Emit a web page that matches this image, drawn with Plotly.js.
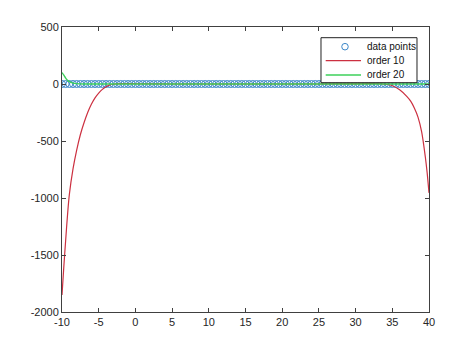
<!DOCTYPE html>
<html>
<head>
<meta charset="utf-8">
<script src="https://cdn.plot.ly/plotly-3.0.1.min.js"></script>
<style>html,body{margin:0;padding:0;background:#fff;}#chart{width:474px;height:351px;}</style>
</head>
<body>
<div id="chart"></div>
<script>
// data points
var pointsX = [-10,-9.5,-9,-8.5,-8,-7.5,-7,-6.5,-6,-5.5,-5,-4.5,-4,-3.5,-3,-2.5,-2,-1.5,-1,-0.5,0,0.5,1,1.5,2,2.5,3,3.5,4,4.5,5,5.5,6,6.5,7,7.5,8,8.5,9,9.5,10,10.5,11,11.5,12,12.5,13,13.5,14,14.5,15,15.5,16,16.5,17,17.5,18,18.5,19,19.5,20,20.5,21,21.5,22,22.5,23,23.5,24,24.5,25,25.5,26,26.5,27,27.5,28,28.5,29,29.5,30,30.5,31,31.5,32,32.5,33,33.5,34,34.5,35,35.5,36,36.5,37,37.5,38,38.5,39,39.5,40];
var pointsY = [0,0,0,0,0,0,0,0,0,0,0,0,0,0,0,0,0,0,0,0,0,0,0,0,0,0,0,0,0,0,0,0,0,0,0,0,0,0,0,0,0,0,0,0,0,0,0,0,0,0,0,0,0,0,0,0,0,0,0,0,0,0,0,0,0,0,0,0,0,0,0,0,0,0,0,0,0,0,0,0,0,0,0,0,0,0,0,0,0,0,0,0,0,0,0,0,0,0,0,0,0];
// order 10 fit
var order10X = [-10,-9.75,-9.5,-9.25,-9,-8.5,-8,-7.5,-7,-6.5,-6,-5.5,-5,-4.5,-4,-3.5,-3,-2,0,5,10,15,20,25,30,32,33,34,34.7,35,36,37,37.5,38,38.5,39,39.5,39.75,40];
var order10Y = [-1850,-1600,-1370,-1150,-970,-745,-580,-445,-340,-250,-178,-122,-80,-47,-24,-9,-2,3,2,0,0,0,0,0,1,3,2,-2,-9,-15,-50,-110,-150,-210,-290,-420,-640,-780,-955];
// order 20 fit
var order20X = [-10,-9.75,-9.5,-9.25,-9,-8.5,-8,-7,-5,0,10,20,30,35,38,39,40];
var order20Y = [100,78,52,33,20,8,3,0,0,0,0,0,0,0,0,0,0];
// ticks
var xTicks = [-10,-5,0,5,10,15,20,25,30,35,40];
var xTickText = ['-10','-5','0','5','10','15','20','25','30','35','40'];
var yTicks = [-2000,-1500,-1000,-500,0,500];
var yTickText = ['-2000','-1500','-1000','-500','0','500'];
// legend labels
var legendLabels = ['data points', 'order 10', 'order 20'];

var blue = '#3a86c8', red = '#cc3040', green = '#3cd05a';
var fontFam = 'Liberation Sans, Arial, sans-serif';

var traces = [
  {x: pointsX, y: pointsY, type: 'scatter', mode: 'markers', name: legendLabels[0],
   marker: {symbol: 'circle-open', size: 7, color: blue, line: {width: 1, color: blue}}},
  {x: order10X, y: order10Y, type: 'scatter', mode: 'lines', name: legendLabels[1],
   line: {color: red, width: 1.2, shape: 'spline', smoothing: 0.8}},
  {x: order20X, y: order20Y, type: 'scatter', mode: 'lines', name: legendLabels[2],
   line: {color: green, width: 1.4, shape: 'spline', smoothing: 0.6}}
];

var axisCommon = {
  showgrid: false, zeroline: false, showline: true, mirror: 'ticks',
  linecolor: '#404040', linewidth: 1, ticks: 'inside', ticklen: 4, tickcolor: '#404040',
  tickfont: {family: fontFam, size: 11, color: '#262626'}
};

// manual legend (MATLAB style, compact rows)
var lx0 = 0.7057, lx1 = 0.9673, ly0 = 0.8046, ly1 = 0.9625;
var rowY = [0.9309, 0.8818, 0.8316];
var symX0 = 0.7185, symX1 = 0.8147, symXc = 0.7711, textX = 0.8256;
var shapes = [
  {type: 'rect', xref: 'paper', yref: 'paper', x0: lx0, x1: lx1, y0: ly0, y1: ly1,
   fillcolor: '#ffffff', line: {color: '#222222', width: 1}, layer: 'above'},
  {type: 'circle', xref: 'paper', yref: 'paper', x0: symXc - 0.0089, x1: symXc + 0.0089,
   y0: rowY[0] - 0.0115, y1: rowY[0] + 0.0115, line: {color: blue, width: 1}, layer: 'above'},
  {type: 'line', xref: 'paper', yref: 'paper', x0: symX0, x1: symX1, y0: rowY[1], y1: rowY[1],
   line: {color: red, width: 1.2}, layer: 'above'},
  {type: 'line', xref: 'paper', yref: 'paper', x0: symX0, x1: symX1, y0: rowY[2], y1: rowY[2],
   line: {color: green, width: 1.4}, layer: 'above'}
];
var annotations = legendLabels.map(function (t, i) {
  return {text: t, xref: 'paper', yref: 'paper', x: textX, y: rowY[i], xanchor: 'left', yanchor: 'middle',
          showarrow: false, font: {family: fontFam, size: 10, color: '#111'}};
});

var layout = {
  width: 474, height: 351,
  margin: {l: 62, r: 45, t: 27, b: 39},
  paper_bgcolor: '#ffffff', plot_bgcolor: '#ffffff',
  showlegend: false,
  shapes: shapes,
  annotations: annotations,
  xaxis: Object.assign({}, axisCommon, {range: [-10, 40], tickmode: 'array', tickvals: xTicks, ticktext: xTickText}),
  yaxis: Object.assign({}, axisCommon, {range: [-2000, 500], tickmode: 'array', tickvals: yTicks, ticktext: yTickText})
};

Plotly.newPlot('chart', traces, layout, {staticPlot: true, displayModeBar: false});
</script>
</body>
</html>
